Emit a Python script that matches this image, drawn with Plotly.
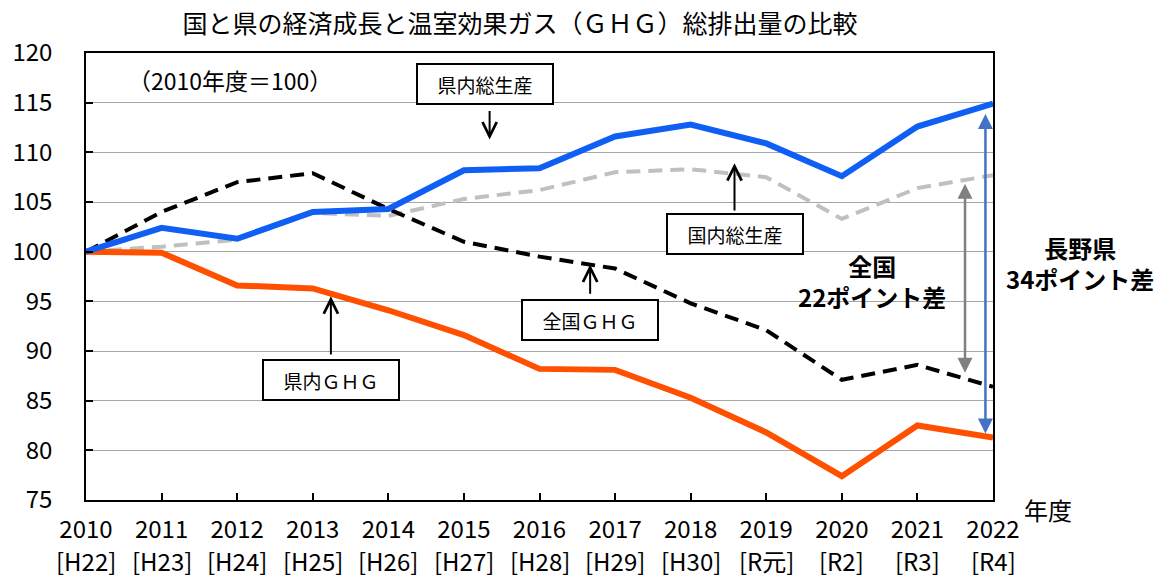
import plotly.graph_objects as go

years = [2010, 2011, 2012, 2013, 2014, 2015, 2016, 2017, 2018, 2019, 2020, 2021, 2022]
era_labels = ["[H22]", "[H23]", "[H24]", "[H25]", "[H26]", "[H27]", "[H28]", "[H29]", "[H30]", "[R元]", "[R2]", "[R3]", "[R4]"]

pref_gdp = [100, 102.4, 101.3, 104.0, 104.3, 108.2, 108.4, 111.6, 112.8, 110.9, 107.6, 112.6, 114.9]
nat_gdp = [100, 100.5, 101.2, 103.9, 103.6, 105.3, 106.2, 108.0, 108.3, 107.5, 103.3, 106.4, 107.7]
nat_ghg = [100, 104.0, 107.0, 107.9, 104.3, 101.0, 99.5, 98.3, 94.8, 92.1, 87.1, 88.6, 86.4]
pref_ghg = [100, 99.9, 96.6, 96.3, 94.1, 91.6, 88.2, 88.1, 85.3, 81.8, 77.4, 82.5, 81.3]

y_ticks = [75, 80, 85, 90, 95, 100, 105, 110, 115, 120]

FONT = "Noto Sans CJK JP"

fig = go.Figure()
fig.add_trace(go.Scatter(x=years, y=nat_gdp, mode="lines", name="国内総生産",
                         line=dict(color="#C0C0C0", width=4, dash="14px,8px")))
fig.add_trace(go.Scatter(x=years, y=nat_ghg, mode="lines", name="全国ＧＨＧ",
                         line=dict(color="#000000", width=4, dash="14px,8px")))
fig.add_trace(go.Scatter(x=years, y=pref_ghg, mode="lines", name="県内ＧＨＧ",
                         line=dict(color="#FF5000", width=6)))
fig.add_trace(go.Scatter(x=years, y=pref_gdp, mode="lines", name="県内総生産",
                         line=dict(color="#0F5FF5", width=6)))

fig.update_layout(
    xaxis=dict(range=[2010, 2022], tickvals=years, ticktext=[str(y) for y in years],
               showgrid=False, showline=True, linecolor="black", linewidth=1.5,
               mirror=True, ticks="outside", ticklen=7, tickcolor="rgba(0,0,0,0)",
               tickfont=dict(family=FONT, size=24, color="black"), zeroline=False,
               automargin=False),
    yaxis=dict(range=[75, 120], tickvals=y_ticks, showgrid=True,
               gridcolor="#A6A6A6", gridwidth=1.2, showline=True, linecolor="black",
               linewidth=1.5, mirror=True, ticks="outside", ticklen=27,
               tickcolor="rgba(0,0,0,0)",
               tickfont=dict(family=FONT, size=24, color="black"), zeroline=False,
               automargin=False),
    xaxis2=dict(range=[2010, 2022], tickvals=years, overlaying="x", anchor="y", side="bottom",
                showticklabels=False, ticks="inside", ticklen=7, tickcolor="black",
                tickwidth=1.5, showgrid=False, showline=False, zeroline=False,
                automargin=False),
    yaxis2=dict(range=[75, 120], tickvals=y_ticks, overlaying="y", anchor="x", side="left",
                showticklabels=False, ticks="inside", ticklen=7, tickcolor="black",
                tickwidth=1.5, showgrid=False, showline=False, zeroline=False,
                automargin=False),
)
fig.add_trace(go.Scatter(x=[years[0]], y=[y_ticks[0]], xaxis="x2", yaxis="y2", mode="markers",
                         marker=dict(opacity=0), hoverinfo="skip", showlegend=False))

ann = []
for yr, era in zip(years, era_labels):
    ann.append(dict(x=yr, y=-0.136, xref="x", yref="paper", text=era, showarrow=False,
                    xanchor="center", yanchor="middle",
                    font=dict(family=FONT, size=24, color="black")))

def box(text, x, y):
    ann.append(dict(x=x, y=y, xref="x", yref="y", text=text, showarrow=False,
                    font=dict(family=FONT, size=19, color="black"),
                    width=118, height=22, borderpad=8,
                    bordercolor="black", borderwidth=2, bgcolor="white"))

def arrow(x, y_tail, y_head):
    ann.append(dict(x=x, y=y_head, ax=x, ay=y_tail, xref="x", yref="y", axref="x", ayref="y",
                    text="", showarrow=True, arrowhead=5, arrowsize=1.4, arrowwidth=2,
                    arrowcolor="black", standoff=0, startstandoff=0))

box("県内総生産", 2015.28, 116.9)
arrow(2015.34, 114.3, 111.3)
box("国内総生産", 2018.58, 101.8)
arrow(2018.58, 104.0, 108.9)
box("全国ＧＨＧ", 2016.67, 93.1)
arrow(2016.67, 95.6, 98.7)
box("県内ＧＨＧ", 2013.24, 87.1)
arrow(2013.24, 89.5, 95.5)

ann.append(dict(x=2021.63, y=87.8, ax=2021.63, ay=107.0, xref="x", yref="y", axref="x", ayref="y",
                text="", showarrow=True, arrowhead=2, startarrowhead=2, arrowside="end+start",
                arrowsize=1.2, startarrowsize=1.2, arrowwidth=2.5, arrowcolor="#808080",
                standoff=0, startstandoff=0))
ann.append(dict(x=2021.9, y=81.7, ax=2021.9, ay=114.0, xref="x", yref="y", axref="x", ayref="y",
                text="", showarrow=True, arrowhead=2, startarrowhead=2, arrowside="end+start",
                arrowsize=1.2, startarrowsize=1.2, arrowwidth=2.5, arrowcolor="#4472C4",
                standoff=0, startstandoff=0))

ann.append(dict(x=2020.40, y=97.0, xref="x", yref="y", text="<b>全国<br>22ポイント差</b>",
                showarrow=False, xanchor="center",
                font=dict(family=FONT, size=24, color="black")))
ann.append(dict(x=1.096, y=98.9, xref="paper", yref="y", text="<b>長野県<br>34ポイント差</b>",
                showarrow=False, xanchor="center",
                font=dict(family=FONT, size=24, color="black")))
ann.append(dict(x=2011.9, y=117.3, xref="x", yref="y", text="（2010年度＝100）",
                showarrow=False, xanchor="center",
                font=dict(family=FONT, size=23, color="black")))
ann.append(dict(x=1.061, y=-0.022, xref="paper", yref="paper", text="年度",
                showarrow=False, xanchor="center", yanchor="middle",
                font=dict(family=FONT, size=24, color="black")))

fig.update_layout(
    width=1154, height=568,
    margin=dict(l=78, r=169, t=45, b=76),
    paper_bgcolor="white", plot_bgcolor="white",
    showlegend=False,
    title=dict(text="国と県の経済成長と温室効果ガス（ＧＨＧ）総排出量の比較",
               x=0.4437, xref="container", xanchor="center",
               y=0.972, yref="container", yanchor="middle",
               font=dict(family=FONT, size=25, color="black")),
    annotations=ann,
)

fig.write_html("out.html")
